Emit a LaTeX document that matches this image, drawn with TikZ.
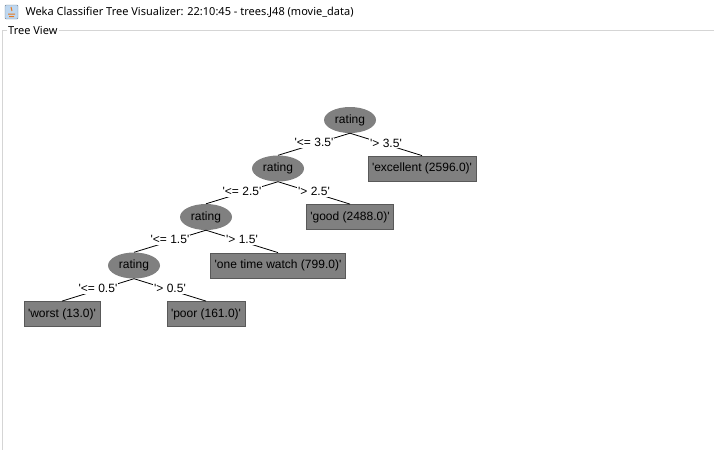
\documentclass[tikz,border=0pt]{standalone}
\usepackage{fontspec}
\setmainfont{Liberation Sans}
\newfontfamily\titlefont{Noto Sans}
\usetikzlibrary{shapes.geometric}
\definecolor{wekagray}{RGB}{128,128,128}
\definecolor{framegray}{RGB}{213,213,213}
\definecolor{iconblue}{RGB}{190,215,240}
\definecolor{iconorange}{RGB}{230,120,30}
\newcommand\val[1]{\textquotesingle#1\textquotesingle}
\begin{document}
\begin{tikzpicture}[
        x=1pt, y=-1pt,
        font=\fontsize{12}{14}\selectfont,
        grow=down,
        level distance=48.5pt,
        sibling distance=144pt,
        parent anchor=south,
        child anchor=north,
        edge from parent/.style={draw, line width=0.8pt},
        test/.style={ellipse, fill=wekagray, minimum width=52pt, minimum height=26pt, inner sep=0pt},
        leaf/.style={rectangle, fill=wekagray, draw=black!65, line width=0.8pt, minimum height=25pt, inner xsep=4pt},
        split/.style={fill=white, inner sep=1pt, pos=0.5, yshift=1.5pt}
    ]
    \useasboundingbox (0,0) rectangle (714,450);
    % window title and frame
    \draw[iconblue!60!black, fill=iconblue, rounded corners=1pt] (5,5) rectangle (18,19);
    \draw[iconorange, line width=1pt] (8,14) -- (15,14) (9,16.5) -- (14,16.5) (11,7) -- (12,11);
    \node[anchor=west, font=\titlefont\fontsize{11}{14}\selectfont] (title) at (22,12)
        {Weka Classifier Tree Visualizer: 22:10:45 - trees.J48 (movie\_data)};
    \node[anchor=west, inner sep=1pt, font=\titlefont\fontsize{11}{13}\selectfont] (view) at (7,30) {Tree View};
    \draw[framegray, line width=1pt] (view.west) -- (2.5,30) -- (2.5,450);
    \draw[framegray, line width=1pt] (view.east) -- (714,30);
    % tree
    \node[test] (root) at (350,120) {rating}
    child { node[test] (r1) {rating}
            child { node[test] (r2) {rating}
                    child { node[test] (r3) {rating}
                            child { node[leaf] (worst) {\val{worst (13.0)}}
                                    edge from parent node[split] {\val{<= 0.5}}}
                            child { node[leaf] (poor) {\val{poor (161.0)}}
                                    edge from parent node[split] {\val{> 0.5}}}
                            edge from parent node[split] {\val{<= 1.5}}}
                    child { node[leaf] (watch) {\val{one time watch (799.0)}}
                            edge from parent node[split] {\val{> 1.5}}}
                    edge from parent node[split] {\val{<= 2.5}}}
            child { node[leaf] (good) {\val{good (2488.0)}}
                    edge from parent node[split] {\val{> 2.5}}}
            edge from parent node[split] {\val{<= 3.5}}}
    child { node[leaf] (excellent) {\val{excellent (2596.0)}}
            edge from parent node[split] {\val{> 3.5}}};
\end{tikzpicture}
\end{document}
